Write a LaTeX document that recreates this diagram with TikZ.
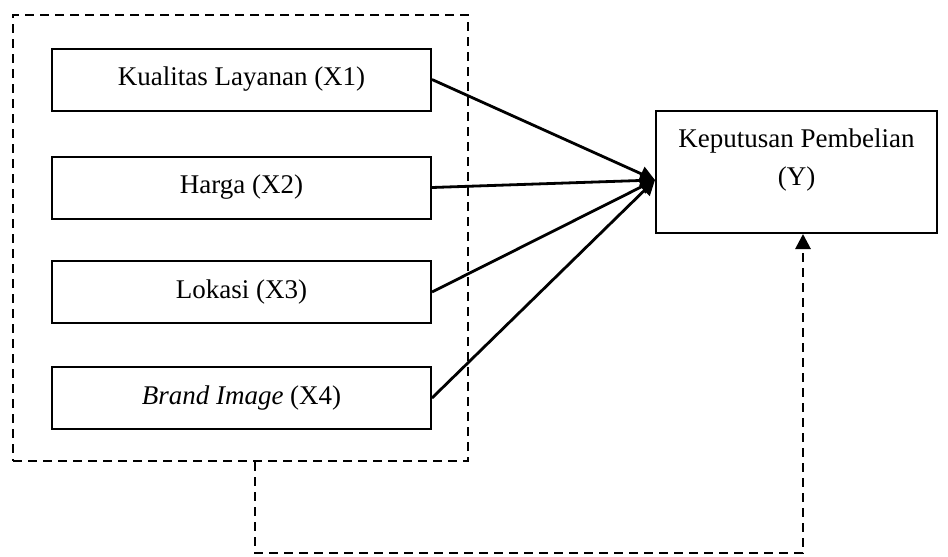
\documentclass[tikz,border=0pt]{standalone}
\usepackage{fontspec}
\setmainfont{Liberation Serif}
\usetikzlibrary{arrows.meta}
\begin{document}
\begin{tikzpicture}[x=0.5pt,y=-0.5pt,
  var/.style={draw, line width=1pt, minimum width=189.5pt, minimum height=31pt, inner sep=0pt},
  yvar/.style={draw, line width=1pt, minimum width=140.5pt, minimum height=61pt, inner sep=0pt},
  groupbox/.style={draw, line width=1.4pt, dash pattern=on 4.5pt off 3pt, minimum width=227.5pt, minimum height=223pt, inner sep=0pt},
  tip/.style={-{Triangle[length=7.5pt,width=7.5pt]}},
  font=\fontsize{13.5}{19}\selectfont]
\useasboundingbox (0,0) rectangle (948,557);
\node[groupbox] (grp) at (240.5,238) {};
\node[var] (x1) at (241.5,79.5) {Kualitas Layanan (X1)};
\node[var] (x2) at (241.5,187.5) {Harga (X2)};
\node[var] (x3) at (241.5,292) {Lokasi (X3)};
\node[var] (x4) at (241.5,398) {\textit{Brand Image} (X4)};
\node[yvar] (y) at (796.5,172) {};
\node[align=center] (ytext) at (796.5,160) {Keputusan Pembelian\\(Y)};
\coordinate (bend) at (803,553);
\path[draw,line width=1.4pt,tip] (x1.east) -- ([yshift=-4pt]y.west);
\path[draw,line width=1.4pt,tip] (x2.east) -- ([yshift=-4pt]y.west);
\path[draw,line width=1.4pt,tip] (x3.east) -- ([yshift=-4pt]y.west);
\path[draw,line width=1.4pt,tip] (x4.east) -- ([yshift=-4pt]y.west);
\path[draw,line width=1.4pt,dash pattern=on 4.5pt off 3pt,tip] (grp.south -| 255,0) |- (bend) -- (y.south -| bend);
\end{tikzpicture}
\end{document}
